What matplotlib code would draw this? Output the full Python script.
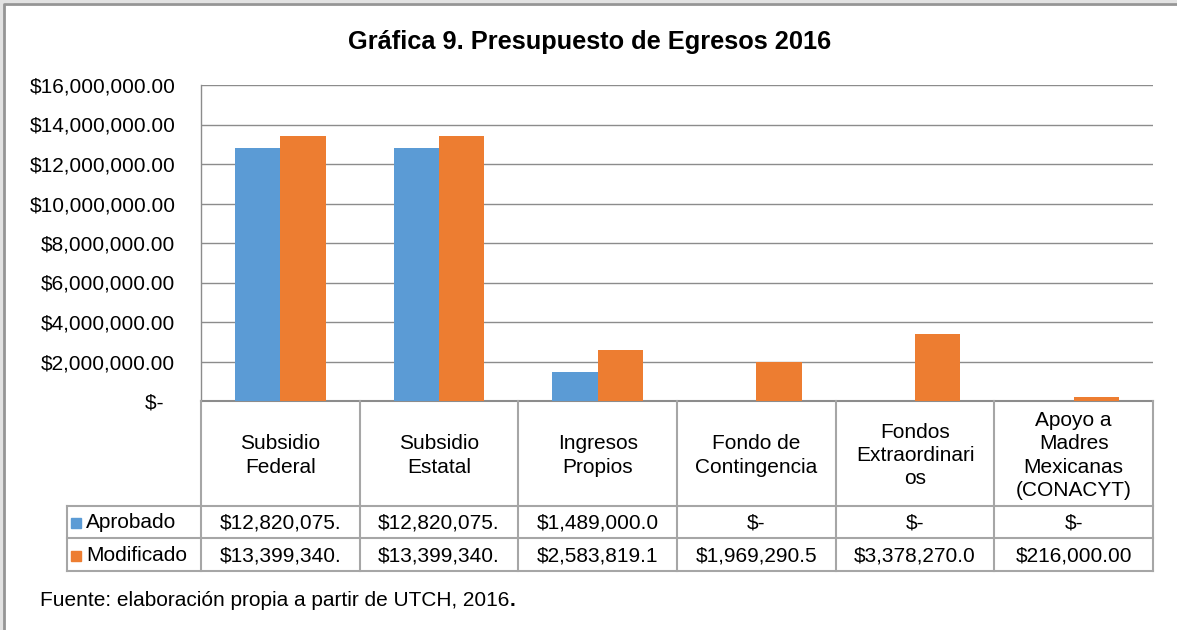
import matplotlib
matplotlib.use("Agg")
import matplotlib.pyplot as plt
from matplotlib.patches import Rectangle
from matplotlib.lines import Line2D
import numpy as np

plt.rcParams['font.family'] = ['Liberation Sans', 'DejaVu Sans']

categories = ["Subsidio\nFederal", "Subsidio\nEstatal", "Ingresos\nPropios",
              "Fondo de\nContingencia", "Fondos\nExtraordinari\nos",
              "Apoyo a\nMadres\nMexicanas\n(CONACYT)"]
series_names = ["Aprobado", "Modificado"]
aprobado = [12820075.0, 12820075.0, 1489000.0, 0.0, 0.0, 0.0]
modificado = [13399340.0, 13399340.0, 2583819.1, 1969290.5, 3378270.0, 216000.0]
aprobado_labels = ["$12,820,075.", "$12,820,075.", "$1,489,000.0", "$-", "$-", "$-"]
modificado_labels = ["$13,399,340.", "$13,399,340.", "$2,583,819.1", "$1,969,290.5",
                     "$3,378,270.0", "$216,000.00"]
yticks = [0, 2e6, 4e6, 6e6, 8e6, 10e6, 12e6, 14e6, 16e6]
title = "Gráfica 9. Presupuesto de Egresos 2016"
source = "Fuente: elaboración propia a partir de UTCH, 2016"

colors = ["#5B9BD5", "#ED7D31"]
grid_c = "#8c8c8c"
tab_c = "#a6a6a6"
FS = 15

W, H = 1177, 630
fig = plt.figure(figsize=(W / 100, H / 100), dpi=100, facecolor="#e2e2e2")

def fx(px):
    return px / W

def fy(py):
    return 1 - py / H

# page background and border (top + left)
fig.patches.append(Rectangle((fx(4), 0), 1 - fx(4), fy(3),
                             transform=fig.transFigure, facecolor="white",
                             edgecolor="none", zorder=-10))
fig.lines.append(Line2D([fx(4), fx(4), 1], [0, fy(3.5), fy(3.5)],
                        transform=fig.transFigure, color="#959595", lw=2))

left, right, top, bottom = 201, 1153, 85, 401
ax = fig.add_axes([fx(left), fy(bottom), fx(right - left), (bottom - top) / H])
ax.set_facecolor("none")
x = np.arange(len(categories))
bw = 0.285
ax.bar(x - bw / 2, aprobado, bw, color=colors[0], zorder=3)
ax.bar(x + bw / 2, modificado, bw, color=colors[1], zorder=3)
ax.set_xlim(-0.5, len(categories) - 0.5)
ax.set_ylim(0, 16e6)
ax.set_yticks(yticks)
ax.set_yticklabels(["$-  " if v == 0 else "${:,.2f}".format(v) for v in yticks],
                   fontsize=FS)
ax.tick_params(axis='y', length=0, pad=18.5)
ax.set_xticks([])
ax.grid(axis='y', color=grid_c, linewidth=1.0, zorder=0)
for s in ["top", "right"]:
    ax.spines[s].set_visible(False)
ax.spines["left"].set_color(grid_c)
ax.spines["bottom"].set_color(grid_c)
ax.spines["bottom"].set_linewidth(1.5)
ax.spines["left"].set_linewidth(1.0)

# data table
tl, tb = 67, 571
ncat = len(categories)
cw = (right - left) / ncat
xl = -0.5 - (left - tl) / cw
tax = fig.add_axes([fx(tl), fy(tb), fx(right - tl), (tb - bottom) / H])
tax.set_xlim(xl, ncat - 0.5)
tax.set_ylim(tb - bottom, 0)
tax.axis("off")
r1, r2, r3 = 105, 137, 170
lw = 1.5
for i in range(ncat + 1):
    tax.plot([i - 0.5, i - 0.5], [0, r3], color=tab_c, lw=lw, clip_on=False)
tax.plot([xl, xl], [r1, r3], color=tab_c, lw=lw, clip_on=False)
for yy in (r1, r2, r3):
    tax.plot([xl, ncat - 0.5], [yy, yy], color=tab_c, lw=lw, clip_on=False)
for i, c in enumerate(categories):
    tax.text(i, r1 / 2 + 2, c, ha="center", va="center", fontsize=FS,
             linespacing=1.3)
    tax.text(i, (r1 + r2) / 2 + 1, aprobado_labels[i], ha="center", va="center",
             fontsize=FS)
    tax.text(i, (r2 + r3) / 2 + 1, modificado_labels[i], ha="center", va="center",
             fontsize=FS)
for j, (name, yy) in enumerate(zip(series_names, [(r1 + r2) / 2, (r2 + r3) / 2])):
    tax.add_patch(Rectangle((xl + 4 / cw, yy - 4), 10 / cw, 10, color=colors[j],
                            clip_on=False))
    tax.text(xl + 19 / cw, yy + 1, name, ha="left", va="center", fontsize=FS)

fig.text(fx(590), fy(42), title, ha="center", va="center", fontsize=18.3,
         fontweight="bold")
t = fig.text(fx(40), fy(600), source, ha="left", va="center", fontsize=FS)
ax.annotate(".", xy=(1, 0), xycoords=t, xytext=(0, 0), textcoords="offset points",
            ha="left", va="bottom", fontsize=FS, fontweight="bold",
            annotation_clip=False)

fig.savefig("out.png", dpi=100, facecolor=fig.get_facecolor())
